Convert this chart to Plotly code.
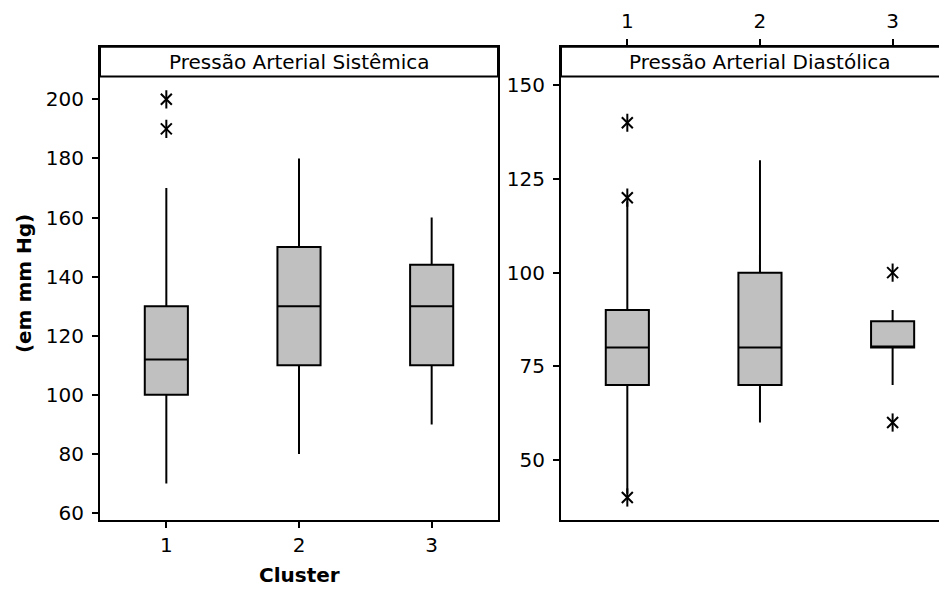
import plotly.graph_objects as go

# ---- data ----
clusters = [1, 2, 3]

sist_q1 = [100, 110, 110]
sist_median = [112, 130, 130]
sist_q3 = [130, 150, 144]
sist_low = [70, 80, 90]
sist_high = [170, 180, 160]
sist_out_x = [1, 1]
sist_out_y = [190, 200]

diast_q1 = [70, 70, 80]
diast_median = [80, 80, 80]
diast_q3 = [90, 100, 87]
diast_low = [41, 60, 70]
diast_high = [119, 130, 90]
diast_out_x = [1, 1, 1, 3, 3]
diast_out_y = [40, 120, 140, 60, 100]

sist_ticks = [60, 80, 100, 120, 140, 160, 180, 200]
diast_ticks = [50, 75, 100, 125, 150]

titles = ["Pressão Arterial Sistêmica", "Pressão Arterial Diastólica"]
y_title = "(em mm Hg)"
x_title = "Cluster"

# the page body has an 8px margin; the figure is sized to fill the window
OFF = 8
W, H = 947 - OFF, 592 - OFF
FONT = "DejaVu Sans"
BOX_FILL = "#C0C0C0"

fig = go.Figure()

def add_box(q1, med, q3, lo, hi, xa, ya):
    fig.add_trace(go.Box(
        x=clusters, q1=q1, median=med, q3=q3, lowerfence=lo, upperfence=hi,
        width=0.325, whiskerwidth=0, boxpoints=False,
        fillcolor=BOX_FILL, line=dict(color="black", width=2),
        xaxis=xa, yaxis=ya, showlegend=False, hoverinfo="skip"))

def add_outliers(xs, ys, xa, ya):
    fig.add_trace(go.Scatter(
        x=xs, y=ys, mode="markers", xaxis=xa, yaxis=ya, showlegend=False,
        marker=dict(symbol="line-ns-open", size=13, color="black",
                    line=dict(color="black", width=2))))
    fig.add_trace(go.Scatter(
        x=xs, y=ys, mode="markers", xaxis=xa, yaxis=ya, showlegend=False,
        marker=dict(symbol="x-thin-open", size=11, color="black",
                    line=dict(color="black", width=2))))

add_box(sist_q1, sist_median, sist_q3, sist_low, sist_high, "x", "y")
add_outliers(sist_out_x, sist_out_y, "x", "y")
add_box(diast_q1, diast_median, diast_q3, diast_low, diast_high, "x2", "y2")
add_outliers(diast_out_x, diast_out_y, "x2", "y2")

def px_x(p):
    return (p - OFF) / W

def px_y(p):
    return 1 - (p - OFF) / H

y_dom = [px_y(524), px_y(47)]
axis_common = dict(showgrid=False, zeroline=False, showline=True,
                   linecolor="black", linewidth=2, ticks="outside",
                   ticklen=6, tickwidth=1.5, tickcolor="black",
                   tickfont=dict(family=FONT, size=20, color="black"))

fig.update_layout(
    width=W, height=H, margin=dict(l=0, r=0, t=0, b=0),
    paper_bgcolor="white", plot_bgcolor="white",
    font=dict(family=FONT, size=20, color="black"),
    xaxis=dict(domain=[px_x(100), px_x(498)], range=[0.5, 3.5],
               tickvals=clusters, mirror=True, anchor="y", **axis_common),
    yaxis=dict(domain=y_dom, range=[57.8, 217.8], tickvals=sist_ticks,
               mirror=True, anchor="x", ticklabelstandoff=4, **axis_common),
    xaxis2=dict(domain=[px_x(561), 1.0], range=[0.5, 3.41],
                tickvals=clusters, side="top", mirror=True, anchor="y2",
                ticklabelstandoff=3, **axis_common),
    yaxis2=dict(domain=y_dom, range=[34.1, 160.3], tickvals=diast_ticks,
                mirror=False, anchor="x2", ticklabelstandoff=4, **axis_common),
)

# header strips
for x0, x1 in [(px_x(100), px_x(498)), (px_x(561), 1.05)]:
    fig.add_shape(type="rect", xref="paper", yref="paper",
                  x0=x0, x1=x1, y0=px_y(77), y1=px_y(47),
                  fillcolor="white", line=dict(color="black", width=2),
                  layer="above")

fig.add_annotation(text=titles[0], xref="x", yref="paper", x=2, y=px_y(62),
                   showarrow=False, yanchor="middle",
                   font=dict(family=FONT, size=20, color="black"))
fig.add_annotation(text=titles[1], xref="x2", yref="paper", x=2, y=px_y(62),
                   showarrow=False, yanchor="middle",
                   font=dict(family=FONT, size=20, color="black"))

fig.add_annotation(text="<b>" + y_title + "</b>", xref="paper", yref="paper",
                   x=px_x(23.5), y=px_y(286), textangle=-90, showarrow=False,
                   xanchor="center", yanchor="middle",
                   font=dict(family=FONT, size=20, color="black"))
fig.add_annotation(text="<b>" + x_title + "</b>", xref="paper", yref="paper",
                   x=px_x(299), y=px_y(580), showarrow=False,
                   xanchor="center", yanchor="middle",
                   font=dict(family=FONT, size=20, color="black"))

fig.write_html("out.html")
